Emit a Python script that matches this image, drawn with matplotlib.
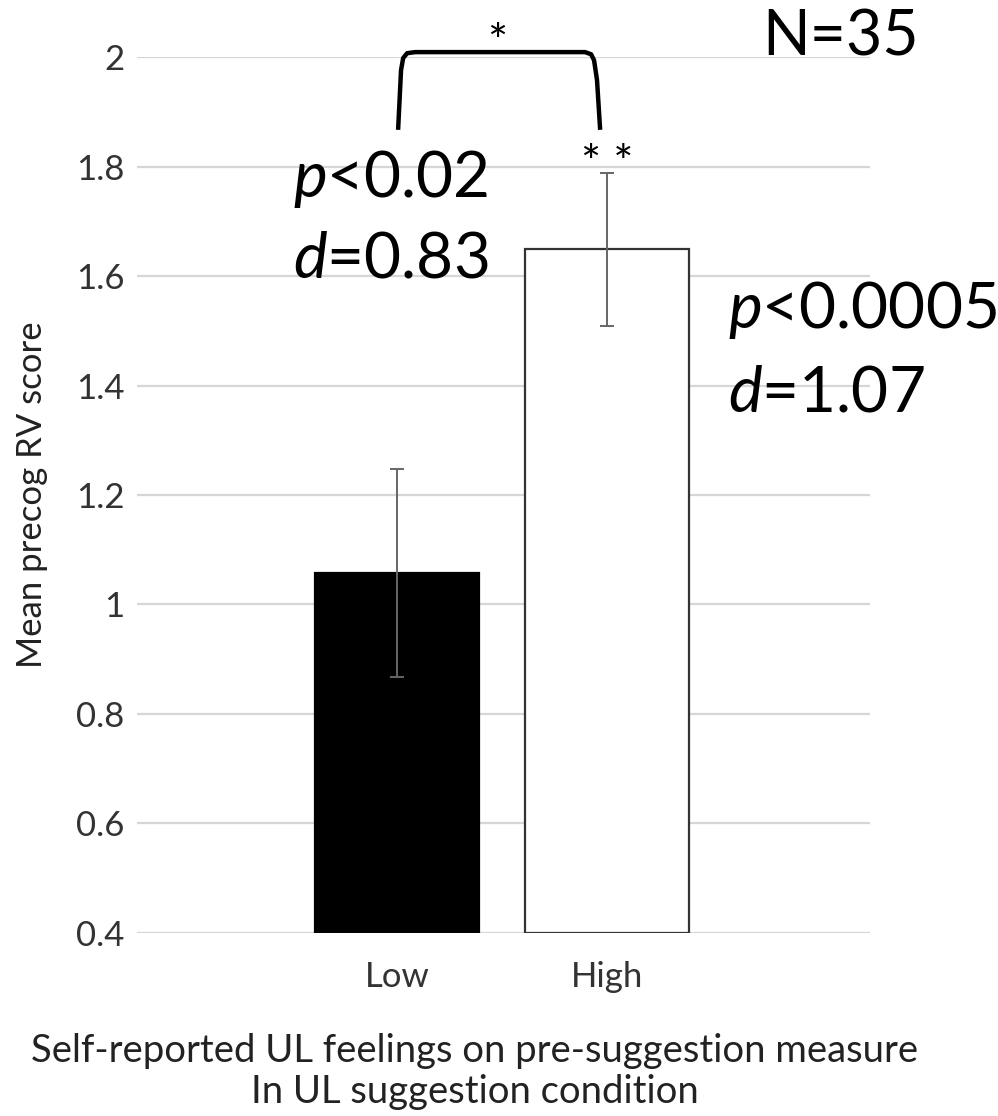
import numpy as np
import matplotlib
matplotlib.use('Agg')
import matplotlib.pyplot as plt

plt.rcParams['font.family'] = ['Lato', 'DejaVu Sans']
plt.rcParams['mathtext.fontset'] = 'custom'
plt.rcParams['mathtext.it'] = 'Lato:italic'
plt.rcParams['mathtext.rm'] = 'Lato'

# data
groups = ['Low', 'High']
means = [1.058, 1.649]
errors = [0.19, 0.14]
bar_colors = ['black', 'white']
yticks = [0.4, 0.6, 0.8, 1.0, 1.2, 1.4, 1.6, 1.8, 2.0]
ytick_labels = ['0.4', '0.6', '0.8', '1', '1.2', '1.4', '1.6', '1.8', '2']

fig = plt.figure(figsize=(9.98, 11.16), dpi=100)
ax = fig.add_axes([0.1373, 0.164, 0.7345, 0.7849])

x = np.arange(len(groups))
base = 0.4
ax.bar(x, np.array(means) - base, bottom=base, width=0.78,
       color=bar_colors, edgecolor=['black', '#333333'], linewidth=1.6, zorder=2)
ax.errorbar(x, means, yerr=errors, fmt='none', ecolor='#666666',
            elinewidth=1.4, capsize=5, capthick=1.4, zorder=3)

ax.set_xlim(-1.238, 2.252)
ax.set_ylim(0.4, 2.0)
ax.set_yticks(yticks)
ax.set_yticklabels(ytick_labels)
ax.set_xticks(x)
ax.set_xticklabels(groups)
ax.tick_params(axis='both', length=0, labelsize=25, colors='#333333')
ax.tick_params(axis='y', pad=9)
ax.tick_params(axis='x', pad=20)
for s in ax.spines.values():
    s.set_visible(False)
ax.yaxis.grid(True, color='#d6d6d6', linewidth=1.6, zorder=0)
ax.set_axisbelow(True)

ax.set_ylabel('Mean precog RV score', fontsize=25, color='#222222', labelpad=20)
fig.text(0.476, 0.005, 'Self-reported UL feelings on pre-suggestion measure\nIn UL suggestion condition',
         ha='center', va='bottom', fontsize=27.5, color='#222222', linespacing=1.2)

# significance bracket
bx = [0.005, 0.019, 0.029, 0.048, 0.086, 0.895, 0.924, 0.938, 0.952, 0.967]
by = [1.867, 1.976, 1.998, 2.007, 2.009, 2.009, 2.005, 1.994, 1.958, 1.867]
ax.plot(bx, by, color='black', linewidth=3.2, clip_on=False,
        solid_capstyle='butt', solid_joinstyle='round', zorder=4)
ax.text(0.476, 1.985, '*', ha='center', va='bottom', fontsize=34, clip_on=False)
ax.text(1.0, 1.764, '* *', ha='center', va='bottom', fontsize=34)

big = 46
ax.text(-0.495, 1.744, '$p$<0.02', fontsize=big, va='baseline', ha='left')
ax.text(-0.495, 1.598, '$d$=0.83', fontsize=big, va='baseline', ha='left')
ax.text(1.576, 1.505, '$p$<0.0005', fontsize=big, va='baseline', ha='left', clip_on=False)
ax.text(1.576, 1.352, '$d$=1.07', fontsize=big, va='baseline', ha='left', clip_on=False)
ax.text(1.738, 2.002, 'N=35', fontsize=45, va='baseline', ha='left', clip_on=False)

fig.savefig('out.png', dpi=100, facecolor='white')
